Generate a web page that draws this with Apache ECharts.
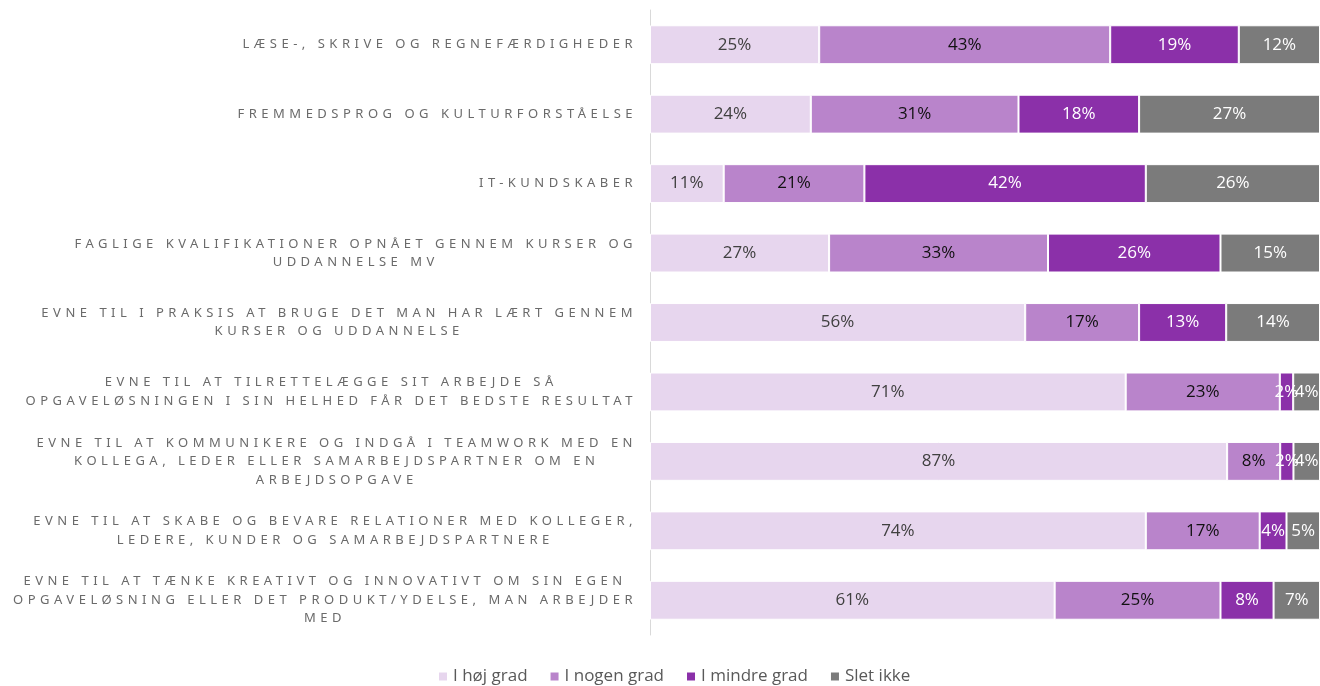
<!DOCTYPE html>
<html>
<head>
<meta charset="utf-8">
<script src="https://cdn.jsdelivr.net/npm/echarts@6/dist/echarts.min.js"></script>
<style>
  html, body { margin: 0; padding: 0; background: #fff; }
  #chart { width: 1320px; height: 686px; }
</style>
</head>
<body>
<div id="chart"></div>
<script>
// Category labels (one entry per bar, lines as drawn)
const categories = [
  ['LÆSE-, SKRIVE OG REGNEFÆRDIGHEDER'],
  ['FREMMEDSPROG OG KULTURFORSTÅELSE'],
  ['IT-KUNDSKABER'],
  ['FAGLIGE KVALIFIKATIONER OPNÅET GENNEM KURSER OG', 'UDDANNELSE MV'],
  ['EVNE TIL I PRAKSIS AT BRUGE DET MAN HAR LÆRT GENNEM', 'KURSER OG UDDANNELSE'],
  ['EVNE TIL AT TILRETTELÆGGE SIT ARBEJDE SÅ', 'OPGAVELØSNINGEN I SIN HELHED FÅR DET BEDSTE RESULTAT'],
  ['EVNE TIL AT KOMMUNIKERE OG INDGÅ I TEAMWORK MED EN', 'KOLLEGA, LEDER ELLER SAMARBEJDSPARTNER OM EN', 'ARBEJDSOPGAVE'],
  ['EVNE TIL AT SKABE OG BEVARE RELATIONER MED KOLLEGER,', 'LEDERE, KUNDER OG SAMARBEJDSPARTNERE'],
  ['EVNE TIL AT TÆNKE KREATIVT OG INNOVATIVT OM SIN EGEN', 'OPGAVELØSNING ELLER DET PRODUKT/YDELSE, MAN ARBEJDER', 'MED']
];

const seriesNames = ['I høj grad', 'I nogen grad', 'I mindre grad', 'Slet ikke'];

// Shares in percent, one value per category
const hoejGrad    = [25, 24, 11, 27, 56, 71, 87, 74, 61];
const nogenGrad   = [43, 31, 21, 33, 17, 23,  8, 17, 25];
const mindreGrad  = [19, 18, 42, 26, 13,  2,  2,  4,  8];
const sletIkke    = [12, 27, 26, 15, 14,  4,  4,  5,  7];

const colors = ['#e7d6ee', '#b984cb', '#8b30a9', '#7b7b7b'];
const labelColors = ['#404040', '#111111', '#ffffff', '#ffffff'];

// Category labels are tracked (letter-spaced) text: apply canvas letterSpacing
// whenever the tracked family is selected, for both measuring and drawing.
const TRACKED_FAMILY = 'Noto Sans';
(function () {
  const proto = CanvasRenderingContext2D.prototype;
  const desc = Object.getOwnPropertyDescriptor(proto, 'font');
  if (!desc || !('letterSpacing' in proto)) return;
  Object.defineProperty(proto, 'font', {
    configurable: true,
    enumerable: desc.enumerable,
    get: function () { return desc.get.call(this); },
    set: function (v) {
      desc.set.call(this, v);
      this.letterSpacing = (typeof v === 'string' && v.indexOf(TRACKED_FAMILY) >= 0) ? '4.5px' : '0px';
    }
  });
})();

const rows = [hoejGrad, nogenGrad, mindreGrad, sletIkke];
// Each bar shows its parts as shares of the row total (100 % stacked)
const totals = categories.map((_, i) => rows.reduce((s, r) => s + r[i], 0));

const chart = echarts.init(document.getElementById('chart'), null, { renderer: 'canvas' });

const series = rows.map((vals, k) => ({
  name: seriesNames[k],
  type: 'bar',
  stack: 'total',
  barWidth: '56%',
  data: vals.map((v, i) => v / totals[i] * 100),
  itemStyle: { color: colors[k], borderColor: '#ffffff', borderWidth: 1 },
  label: {
    show: true,
    position: 'inside',
    formatter: p => vals[p.dataIndex] + '%',
    color: labelColors[k],
    fontFamily: 'Open Sans',
    fontSize: 17
  },
  emphasis: { disabled: true }
}));

chart.setOption({
  animation: false,
  backgroundColor: '#ffffff',
  color: colors,
  grid: { left: 650, right: 0, top: 10, bottom: 51, containLabel: false, outerBoundsMode: 'none' },
  xAxis: {
    type: 'value',
    min: 0,
    max: 100,
    show: false
  },
  yAxis: {
    type: 'category',
    inverse: true,
    data: categories.map(l => l.join('\n')),
    axisLine: { show: true, lineStyle: { color: '#d9d9d9', width: 1 } },
    axisTick: { show: false },
    splitLine: { show: false },
    axisLabel: {
      interval: 0,
      margin: 13,
      align: 'right',
      formatter: v => v.split('\n').map(s => '{c|' + s + '}').join('\n'),
      rich: {
        c: {
          align: 'center',
          fontFamily: TRACKED_FAMILY,
          fontSize: 13,
          lineHeight: 18.5,
          color: '#6a6a6a'
        }
      }
    }
  },
  legend: {
    bottom: -4,
    left: 432,
    icon: 'rect',
    itemWidth: 10,
    itemHeight: 10,
    itemGap: 21,
    textStyle: { fontFamily: 'Open Sans', fontSize: 17, color: '#595959' },
    data: seriesNames
  },
  series: series
});
</script>
</body>
</html>
